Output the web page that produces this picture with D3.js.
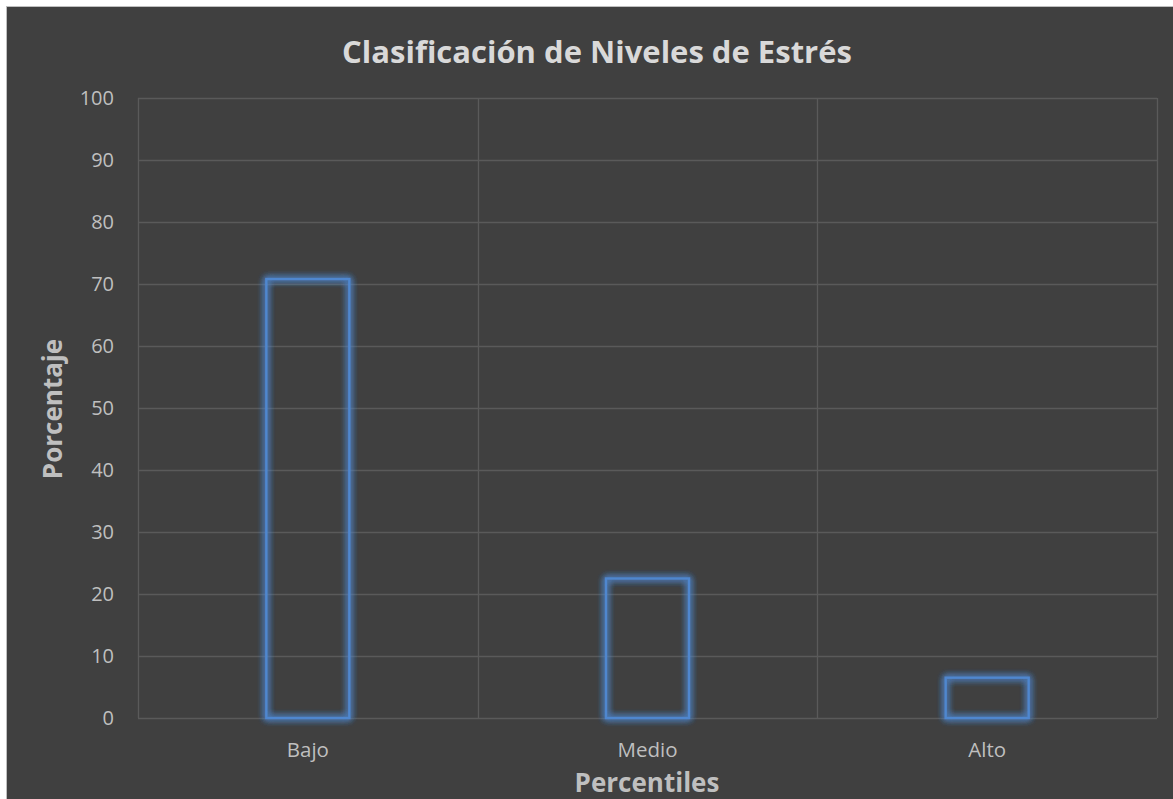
<!DOCTYPE html>
<html>
<head>
<meta charset="utf-8">
<script src="https://cdn.jsdelivr.net/npm/d3@7"></script>
<style>
  body { margin: 0; background: #fff; }
  svg { display: block; }
</style>
</head>
<body>
<div class="chart"></div>
<script>
// data
var categories = ["Bajo", "Medio", "Alto"];
var values = [70.8, 22.5, 6.5];
var yTicks = [0, 10, 20, 30, 40, 50, 60, 70, 80, 90, 100];

var svgWidth = 1173;
var svgHeight = 799;

var margin = { top: 98, right: 16, bottom: 81, left: 138 };
var width = svgWidth - margin.left - margin.right;
var height = svgHeight - margin.top - margin.bottom;

var svg = d3.select(".chart").append("svg")
  .attr("width", svgWidth)
  .attr("height", svgHeight);

// glow for the bar outlines
var defs = svg.append("defs");
var glow = defs.append("filter").attr("id", "glow")
  .attr("x", "-40%").attr("y", "-40%").attr("width", "180%").attr("height", "180%");
glow.append("feGaussianBlur").attr("in", "SourceGraphic").attr("stdDeviation", 3.5).attr("result", "blur");
var merge = glow.append("feMerge");
merge.append("feMergeNode").attr("in", "blur");
merge.append("feMergeNode").attr("in", "blur");
merge.append("feMergeNode").attr("in", "blur");
merge.append("feMergeNode").attr("in", "SourceGraphic");

// chart area background + frame
svg.append("rect")
  .attr("x", 6.5).attr("y", 6.5)
  .attr("width", svgWidth).attr("height", svgHeight)
  .attr("fill", "#404040")
  .attr("stroke", "#bfbfbf")
  .attr("stroke-width", 1);

var chartGroup = svg.append("g")
  .attr("transform", `translate(${margin.left}, ${margin.top})`);

var x = d3.scaleBand().domain(categories).range([0, width]).paddingInner(0).paddingOuter(0);
var y = d3.scaleLinear().domain([0, 100]).range([height, 0]);

// horizontal gridlines
chartGroup.selectAll(".hgrid")
  .data(yTicks)
  .enter()
  .append("line")
  .attr("x1", 0).attr("x2", width)
  .attr("y1", d => Math.round(y(d)) + 0.5)
  .attr("y2", d => Math.round(y(d)) + 0.5)
  .attr("stroke", "#5a5a5a")
  .attr("stroke-width", 1.3);

// vertical gridlines at category boundaries
var vlines = categories.map(c => x(c)).concat([width]);
chartGroup.selectAll(".vgrid")
  .data(vlines)
  .enter()
  .append("line")
  .attr("x1", d => Math.round(d) + 0.5).attr("x2", d => Math.round(d) + 0.5)
  .attr("y1", 0).attr("y2", height)
  .attr("stroke", "#5a5a5a")
  .attr("stroke-width", 1.3);

// y axis labels
var leftAxis = d3.axisLeft(y).tickValues(yTicks).tickSize(0).tickPadding(24);
var yAxis = chartGroup.append("g").call(leftAxis);
yAxis.select(".domain").remove();
yAxis.selectAll("text")
  .attr("fill", "#bfbfbf")
  .style("font-family", "'Open Sans', sans-serif")
  .style("font-size", "20px");

// x axis labels
var bottomAxis = d3.axisBottom(x).tickSize(0).tickPadding(0);
var xAxis = chartGroup.append("g").attr("transform", `translate(0, ${height})`).call(bottomAxis);
xAxis.select(".domain").remove();
xAxis.selectAll("text")
  .attr("dy", null)
  .attr("y", 39)
  .attr("fill", "#bfbfbf")
  .style("font-family", "'Open Sans', sans-serif")
  .style("font-size", "20.5px");

// bars
var barW = 83;
chartGroup.selectAll(".bar")
  .data(values)
  .enter()
  .append("rect")
  .attr("x", (d, i) => x(categories[i]) + x.bandwidth() / 2 - barW / 2)
  .attr("y", d => y(d))
  .attr("width", barW)
  .attr("height", d => height - y(d))
  .attr("fill", "none")
  .attr("stroke", "#5087cf")
  .attr("stroke-width", 2.4)
  .attr("filter", "url(#glow)");

// title
svg.append("text")
  .attr("x", 597).attr("y", 63)
  .attr("text-anchor", "middle")
  .attr("fill", "#d9d9d9")
  .style("font-family", "'Open Sans', sans-serif")
  .style("font-weight", "bold")
  .style("font-size", "31px")
  .text("Clasificación de Niveles de Estrés");

// axis titles
svg.append("text")
  .attr("transform", "translate(62, 409) rotate(-90)")
  .attr("text-anchor", "middle")
  .attr("fill", "#bfbfbf")
  .style("font-family", "'Open Sans', sans-serif")
  .style("font-weight", "bold")
  .style("font-size", "26px")
  .text("Porcentaje");

svg.append("text")
  .attr("x", 647).attr("y", 792)
  .attr("text-anchor", "middle")
  .attr("fill", "#bfbfbf")
  .style("font-family", "'Open Sans', sans-serif")
  .style("font-weight", "bold")
  .style("font-size", "26px")
  .text("Percentiles");
</script>
</body>
</html>
